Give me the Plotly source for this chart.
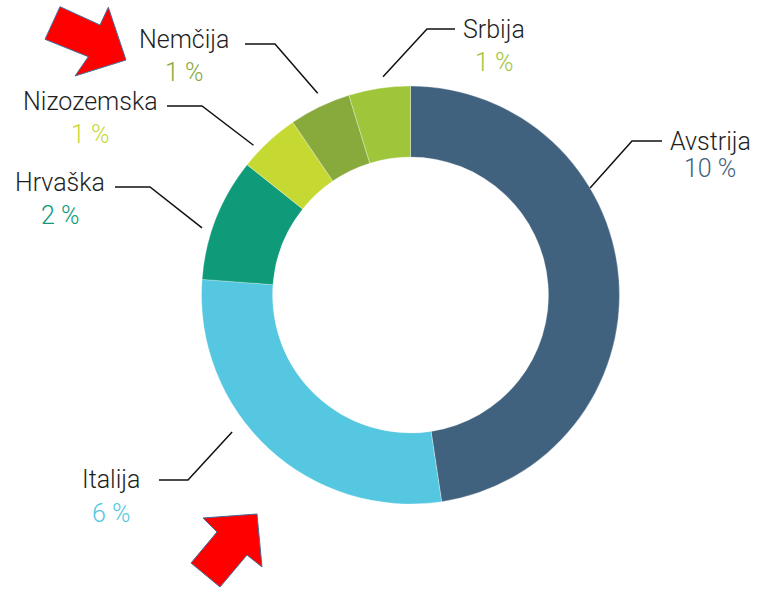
import math
import plotly.graph_objects as go

# ---------------- data ----------------
countries = ["Avstrija", "Italija", "Hrvaška", "Nizozemska", "Nemčija", "Srbija"]
shares = [10, 6, 2, 1, 1, 1]
pct_labels = ["10 %", "6 %", "2 %", "1 %", "1 %", "1 %"]

# ---------------- style / layout ----------------
colors = ["#41627e", "#55c7e0", "#0f9b7a", "#c6d933", "#88aa3d", "#9fc63b"]
W, H = 761, 589
CX, CY, R_OUT, HOLE = 410.5, 295.0, 209.0, 0.66

# leader-line layout (pixel space): angle offset from slice mid-angle, start radius,
# elbow point, end point, label centre x, name y, pct y
label_layout = [
    dict(dang=-26.5, r=209, elbow=(632, 141), end=(662, 141), tx=710, ny=141, py=169),
    dict(dang=9.6, r=225, elbow=(188, 480), end=(159, 480), tx=111, ny=479, py=513),
    dict(dang=-3.6, r=219, elbow=(150, 187), end=(115, 187), tx=60, ny=183, py=215),
    dict(dang=-3.5, r=217, elbow=(202, 106), end=(167, 106), tx=90, ny=102, py=134),
    dict(dang=1.0, r=222, elbow=(275, 44), end=(245, 44), tx=184, ny=40, py=73),
    dict(dang=1.4, r=220, elbow=(427, 29), end=(455, 29), tx=494, ny=29, py=62),
]

arrows = [
    [(45, 39.3), (60, 6.7), (100, 25), (108.3, 7.3), (126, 60), (75, 76), (88.3, 56.7)],
    [(203, 518), (257, 514), (262, 567), (247, 555), (220, 587), (191, 563), (217, 532)],
]


def px(x):
    return x / W


def py_(y):
    return 1 - y / H


fig = go.Figure(
    go.Pie(
        labels=countries,
        values=shares,
        hole=HOLE,
        sort=False,
        direction="clockwise",
        rotation=0,
        marker=dict(colors=colors, line=dict(color="rgba(255,255,255,0.6)", width=0.5)),
        textinfo="none",
        hoverinfo="label+value",
        domain=dict(x=[px(CX - R_OUT), px(CX + R_OUT)], y=[py_(CY + R_OUT), py_(CY - R_OUT)]),
        showlegend=False,
    )
)

total = sum(shares)
cum = 0
shapes = []
annotations = []
font_family = "Roboto"
for name, val, pl, col, lay in zip(countries, shares, pct_labels, colors, label_layout):
    mid = (cum + val / 2) / total * 360
    cum += val
    ang = math.radians(mid + lay["dang"])
    sx = CX + lay["r"] * math.sin(ang)
    sy = CY - lay["r"] * math.cos(ang)
    ex, ey = lay["elbow"]
    fx, fy = lay["end"]
    shapes.append(dict(
        type="path", xref="paper", yref="paper",
        path=f"M {px(sx)} {py_(sy)} L {px(ex)} {py_(ey)} L {px(fx)} {py_(fy)}",
        line=dict(color="#111111", width=1.5),
    ))
    annotations.append(dict(
        x=px(lay["tx"]), y=py_(lay["ny"]), xref="paper", yref="paper",
        text=name, showarrow=False, xanchor="center", yanchor="middle",
        font=dict(family=font_family, size=25, color="#1e1e1e", weight=300),
    ))
    annotations.append(dict(
        x=px(lay["tx"]), y=py_(lay["py"]), xref="paper", yref="paper",
        text=pl, showarrow=False, xanchor="center", yanchor="middle",
        font=dict(family=font_family, size=25, color=col, weight=300),
    ))

for poly in arrows:
    d = "M " + " L ".join(f"{px(x)} {py_(y)}" for x, y in poly) + " Z"
    shapes.append(dict(
        type="path", xref="paper", yref="paper", path=d,
        fillcolor="#ff0000", line=dict(color="#41719c", width=1),
    ))

fig.update_layout(
    width=W, height=H,
    margin=dict(l=0, r=0, t=0, b=0),
    paper_bgcolor="white", plot_bgcolor="white",
    shapes=shapes, annotations=annotations,
)

fig.write_html(
    "out.html",
    config={"displayModeBar": False},
    post_script="document.body.style.margin='0';document.body.style.overflow='hidden';",
)
